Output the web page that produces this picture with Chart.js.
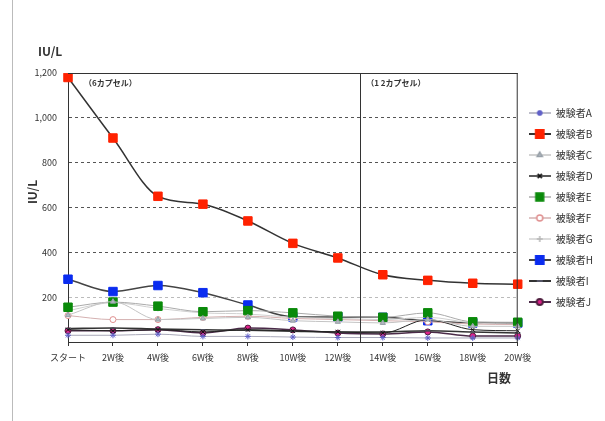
<!DOCTYPE html>
<html>
<head>
<meta charset="utf-8">
<script src="https://cdn.jsdelivr.net/npm/chart.js@4/dist/chart.umd.min.js"></script>
<style>
  html, body { margin: 0; padding: 0; background: #fff; }
  #wrap { width: 605px; height: 421px; position: relative; }
</style>
</head>
<body>
<div id="wrap"><canvas id="liverChart" width="605" height="421"></canvas></div>
<script>
// data
const days = ['スタート', '2W後', '4W後', '6W後', '8W後', '10W後', '12W後', '14W後', '16W後', '18W後', '20W後'];
const yTicks = [0, 200, 400, 600, 800, 1000, 1200];
const subjectA = [30, 30, 35, 25, 25, 22, 20, 20, 18, 18, 18];
const subjectB = [1180, 910, 650, 615, 540, 440, 375, 300, 275, 262, 258];
const subjectC = [120, 180, 100, 105, 110, 95, 90, 85, 100, 70, 70];
const subjectD = [55, 50, 55, 45, 55, 50, 45, 40, 100, 55, 50];
const subjectE = [155, 178, 160, 135, 140, 130, 115, 110, 130, 90, 88];
const subjectF = [118, 100, 100, 110, 115, 105, 100, 95, 90, 80, 78];
const subjectG = [140, 175, 150, 130, 125, 110, 105, 100, 110, 85, 80];
const subjectH = [280, 225, 252, 220, 165, 112, 112, 110, 95, 85, 85];
const subjectI = [60, 62, 58, 55, 52, 48, 45, 45, 50, 45, 40];
const subjectJ = [50, 50, 55, 40, 62, 54, 40, 36, 45, 27, 27];

const jpFont = "'Noto Sans CJK JP', 'DejaVu Sans', sans-serif";

function series(label, data, line, lineWidth, style, radius, fill, stroke) {
  return {
    label: label,
    data: data,
    borderColor: line,
    borderWidth: lineWidth,
    pointStyle: style,
    pointRadius: radius,
    pointHoverRadius: radius,
    pointBackgroundColor: fill,
    pointBorderColor: stroke,
    pointBorderWidth: 1,
    cubicInterpolationMode: 'monotone',
    fill: false
  };
}

const datasets = [
  series('被験者A', subjectA, '#a8a8b8', 1, 'star', 3, '#7070d0', '#6060c8'),
  series('被験者B', subjectB, '#333333', 1.5, 'rect', 6, '#ff2200', '#ff2200'),
  series('被験者C', subjectC, '#c4c4c4', 1, 'triangle', 3, '#b0b8c0', '#98a0a8'),
  series('被験者D', subjectD, '#222222', 1, 'crossRot', 3, '#111111', '#111111'),
  series('被験者E', subjectE, '#aaaaaa', 1, 'rect', 6, '#0a8a0a', '#0a8a0a'),
  series('被験者F', subjectF, '#d4b0b0', 1, 'circle', 3, '#ffffff', '#e09090'),
  series('被験者G', subjectG, '#d0d0d0', 1, 'cross', 3, '#c8c8c8', '#b8b8b8'),
  series('被験者H', subjectH, '#444444', 1.5, 'rect', 6, '#0a2cf0', '#0a2cf0'),
  series('被験者I', subjectI, '#333333', 1.5, 'line', 3, '#556', '#556'),
  series('被験者J', subjectJ, '#4a2a48', 1.5, 'circle', 3, '#e0208a', '#502040')
];

// small line + marker images for the legend
function legendIcon(ds) {
  const c = document.createElement('canvas');
  c.width = 22; c.height = 12;
  const g = c.getContext('2d');
  g.strokeStyle = ds.borderColor;
  g.lineWidth = ds.borderWidth + 0.5;
  g.beginPath(); g.moveTo(0, 6); g.lineTo(22, 6); g.stroke();
  g.fillStyle = ds.pointBackgroundColor;
  g.strokeStyle = ds.pointBorderColor;
  Chart.helpers.drawPoint(g, {
    pointStyle: ds.pointStyle,
    rotation: 0,
    radius: ds.pointStyle === 'rect' ? 5.5 : ds.pointRadius,
    borderWidth: 1
  }, 11, 6);
  return c;
}

const extras = {
  id: 'extras',
  beforeDraw(chart) {
    const ctx = chart.ctx;
    ctx.save();
    ctx.strokeStyle = '#bbbbbb';
    ctx.lineWidth = 1;
    ctx.beginPath(); ctx.moveTo(12.5, 0); ctx.lineTo(12.5, 421); ctx.stroke();
    ctx.restore();
  },
  afterDatasetsDraw(chart) {
    const ctx = chart.ctx;
    const a = chart.chartArea;
    const x = chart.scales.x;
    const split = x.getPixelForValue(6.5);
    ctx.save();
    ctx.strokeStyle = '#333333';
    ctx.lineWidth = 1;
    ctx.beginPath();
    ctx.moveTo(a.left, a.top + 0.5); ctx.lineTo(a.right, a.top + 0.5);
    ctx.moveTo(a.right - 0.5, a.top); ctx.lineTo(a.right - 0.5, a.bottom);
    ctx.moveTo(Math.round(split) + 0.5, a.top); ctx.lineTo(Math.round(split) + 0.5, a.bottom);
    ctx.stroke();

    ctx.fillStyle = '#333333';
    ctx.font = 'bold 8px ' + jpFont;
    ctx.textBaseline = 'middle';
    ctx.textAlign = 'left';
    ctx.fillText('（6カプセル）', a.left + 16, a.top + 10);
    ctx.fillText('（1 2カプセル）', split + 6, a.top + 10);

    ctx.font = 'bold 12px ' + jpFont;
    ctx.fillText('IU/L', 38, 51);
    ctx.fillText('日数', 487, 378);
    ctx.translate(32, 192);
    ctx.rotate(-Math.PI / 2);
    ctx.textAlign = 'center';
    ctx.fillText('IU/L', 0, 0);
    ctx.restore();
  }
};

const chartElement = document.getElementById('liverChart');
if (chartElement) {
  const line = chartElement.getContext('2d');
  new Chart(line, {
    type: 'line',
    data: {
      labels: days,
      datasets: datasets
    },
    plugins: [extras],
    options: {
      responsive: false,
      animation: false,
      layout: {
        padding: { top: 73, right: 2, bottom: 0, left: 0 }
      },
      plugins: {
        legend: {
          position: 'right',
          fullSize: false,
          labels: {
            usePointStyle: true,
            pointStyleWidth: 22,
            padding: 11,
            color: '#333333',
            font: { family: jpFont, size: 10 },
            generateLabels(chart) {
              return chart.data.datasets.map((ds, i) => ({
                text: ds.label,
                pointStyle: legendIcon(ds),
                fillStyle: ds.pointBackgroundColor,
                strokeStyle: ds.borderColor,
                lineWidth: 0,
                hidden: false,
                datasetIndex: i,
                fontColor: '#333333'
              }));
            }
          }
        },
        tooltip: { enabled: false }
      },
      scales: {
        x: {
          offset: false,
          afterFit(axis) { axis.height = 79; },
          grid: {
            drawOnChartArea: false,
            drawTicks: true,
            tickLength: 4,
            color: '#333333'
          },
          border: { display: true, color: '#333333', width: 1 },
          ticks: {
            color: '#333333',
            padding: 6,
            maxRotation: 0,
            autoSkip: false,
            font: { family: jpFont, size: 9 }
          }
        },
        y: {
          min: 0,
          max: 1200,
          afterFit(axis) { axis.width = 68; },
          afterBuildTicks(axis) { axis.ticks = yTicks.map(v => ({ value: v })); },
          grid: {
            drawTicks: false,
            color: (c) => (c.tick && c.tick.value === 200 ? '#bbbbbb' : '#555555')
          },
          border: { display: true, color: '#333333', width: 1, dash: [3, 3] },
          ticks: {
            color: '#333333',
            padding: 11,
            font: { family: jpFont, size: 9 },
            callback: (v) => (v === 0 ? '' : v.toLocaleString('en-US'))
          }
        }
      }
    }
  });
}
</script>
</body>
</html>
